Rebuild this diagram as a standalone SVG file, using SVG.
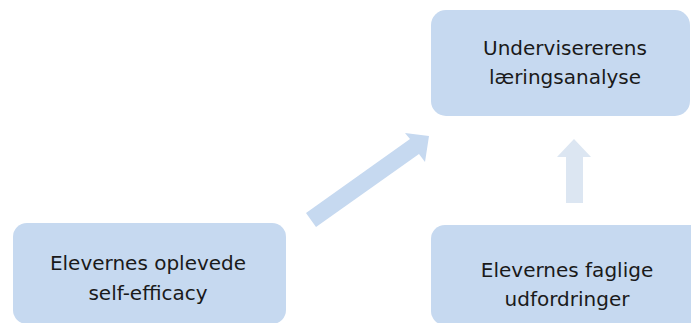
<svg xmlns="http://www.w3.org/2000/svg" width="691" height="323" viewBox="0 0 691 323">
<style>
.box{fill:#c6d9f0}
.lbl{font-family:"DejaVu Sans","Liberation Sans",sans-serif;font-size:20px;fill:#1a1a1a;text-anchor:middle}
</style>
<rect width="691" height="323" fill="#ffffff"/>
<g id="connectors">
<polygon points="306,213 316,227 419,154 425,162 429,136 405,133 410,139" fill="#c6d9f0"/>
<polygon points="566,203 583,203 583,157 591,157 574,139 557,157 566,157" fill="#dce6f2"/>
</g>
<g id="node-teacher">
<rect class="box" x="431" y="10" width="259" height="106" rx="15"/>
<text class="lbl" x="565" y="55">Undervisererens</text>
<text class="lbl" x="565" y="84">læringsanalyse</text>
</g>
<g id="node-selfefficacy">
<rect class="box" x="13" y="223" width="273" height="101" rx="14"/>
<text class="lbl" x="148" y="270">Elevernes oplevede</text>
<text class="lbl" x="148" y="300">self-efficacy</text>
</g>
<g id="node-challenges">
<rect class="box" x="431" y="225" width="275" height="100" rx="14"/>
<text class="lbl" x="567" y="277">Elevernes faglige</text>
<text class="lbl" x="567" y="306">udfordringer</text>
</g>
</svg>
